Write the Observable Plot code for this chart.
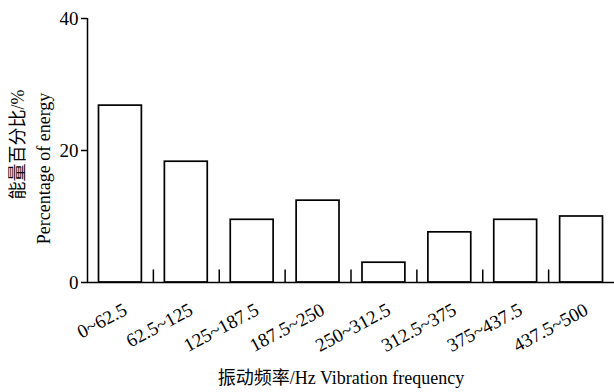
<!DOCTYPE html>
<html>
<head>
<meta charset="utf-8">
<script src="https://cdn.jsdelivr.net/npm/d3@7"></script>
<script src="https://cdn.jsdelivr.net/npm/@observablehq/plot@0.6"></script>
<style>
  html, body { margin: 0; padding: 0; background: #fff; }
  svg { display: block; }
</style>
</head>
<body>
<div id="chart"></div>
<script>
const categories = ["0~62.5", "62.5~125", "125~187.5", "187.5~250", "250~312.5", "312.5~375", "375~437.5", "437.5~500"];
const energy = [26.8, 18.3, 9.5, 12.4, 3.0, 7.6, 9.5, 10.0];
const yTicks = [0, 20, 40];
const yTitleZh = "能量百分比/%";
const yTitleEn = "Percentage of energy";
const xTitle = "振动频率/Hz Vibration frequency";

const data = categories.map((c, i) => ({i, c, v: energy[i]}));
const boundaries = d3.range(1, categories.length);
const font = "'Liberation Serif', 'Times New Roman', 'Noto Sans CJK SC', serif";

const chart = Plot.plot({
  width: 614,
  height: 392,
  marginLeft: 87,
  marginRight: 0,
  marginTop: 18,
  marginBottom: 110,
  style: {fontFamily: font, fontSize: "19px", color: "black", background: "white"},
  x: {type: "linear", domain: [0, categories.length], axis: null},
  y: {domain: [0, 40], axis: null},
  marks: [
    Plot.rectY(data, {x1: d => d.i, x2: d => d.i + 1, y: "v", insetLeft: 11.5, insetRight: 11.5, fill: "white", stroke: "black", strokeWidth: 1.7}),
    Plot.ruleY([0], {stroke: "black", strokeWidth: 1.5}),
    Plot.ruleX([0], {y1: 0, y2: 40, stroke: "black", strokeWidth: 1.5}),
    Plot.ruleX(boundaries, {y1: 0, y2: 1.9, stroke: "black", strokeWidth: 1.5}),
    Plot.axisY({ticks: yTicks, tickSize: 6, tickPadding: 3, fontSize: 19, label: null, strokeWidth: 1.5}),
    Plot.text(data, {x: d => d.i + 0.5, y: 0, text: "c", rotate: -28, textAnchor: "end", dx: 5, dy: 26, fontSize: 19}),
    Plot.text([xTitle], {frameAnchor: "bottom", dx: -10, dy: 101, fontSize: 18}),
    Plot.text([yTitleZh], {frameAnchor: "left", textAnchor: "middle", rotate: -90, dx: -69, dy: -6, fontSize: 18}),
    Plot.text([yTitleEn], {frameAnchor: "left", textAnchor: "middle", rotate: -90, dx: -43, dy: 18, fontSize: 18})
  ]
});
document.getElementById("chart").appendChild(chart);
</script>
</body>
</html>
